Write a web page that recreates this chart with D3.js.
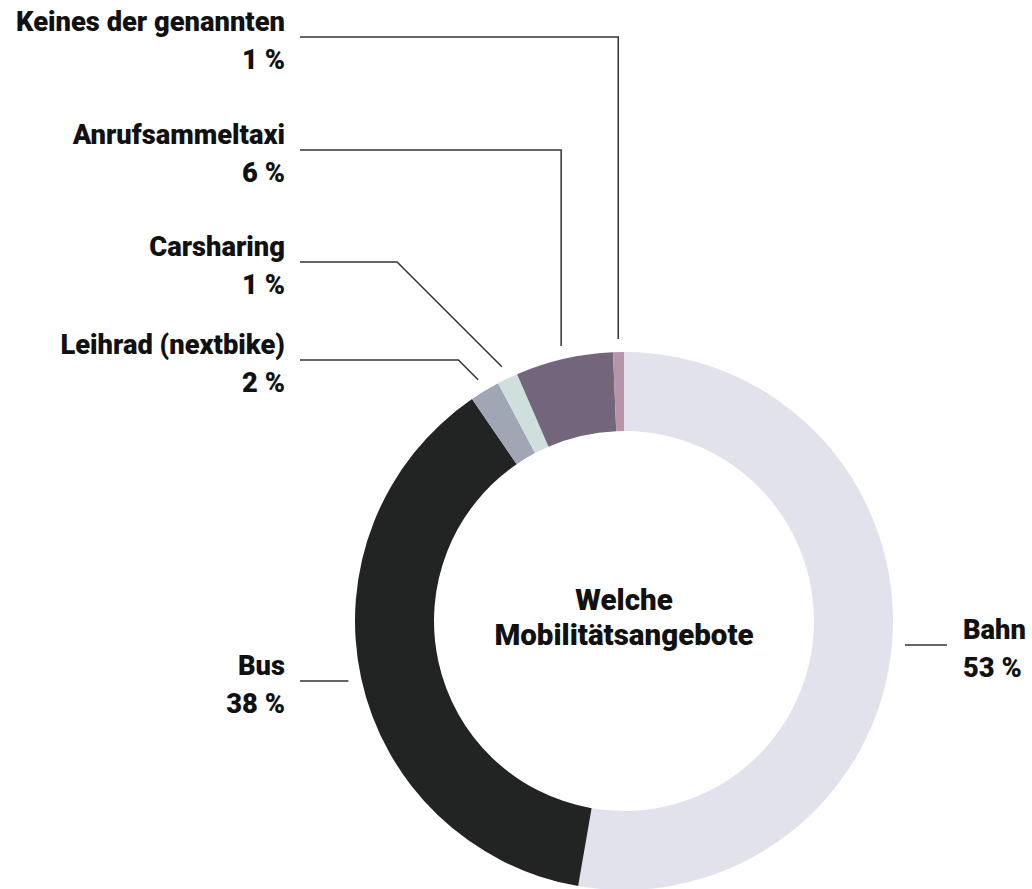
<!DOCTYPE html>
<html>
<head>
<meta charset="utf-8">
<script src="https://cdn.jsdelivr.net/npm/d3@7"></script>
<style>
  body { margin: 0; background: #fff; }
  svg text { font-family: Roboto, "Liberation Sans", sans-serif; font-weight: 900; fill: #111; }
</style>
</head>
<body>
<div id="chart"></div>
<script>
// data (labels show rounded values)
var categories = ["Bahn", "Bus", "Leihrad (nextbike)", "Carsharing", "Anrufsammeltaxi", "Keines der genannten"];
var shares = [52.7, 37.7, 1.8, 1.25, 5.85, 0.65];
var colors = ["#e1e2ec", "#222423", "#a0a6b4", "#cfe0dc", "#73657b", "#b894aa"];
var centerTitle = ["Welche", "Mobilitätsangebote"];

var svg_width = 1032;
var svg_height = 889;
var cx = 624, cy = 621;
var outerR = 269, innerR = 190;

// where each label sits: side, y of its leader line, and how the leader bends
var labelLayout = [
  { side: "right", y: null, bend: "none" },
  { side: "left", y: null, bend: "none" },
  { side: "left", y: 360, bend: "diag" },
  { side: "left", y: 262, bend: "diag" },
  { side: "left", y: 150, bend: "vert" },
  { side: "left", y: 37, bend: "vert" }
];

var svg = d3.select("#chart").append("svg")
  .attr("width", svg_width)
  .attr("height", svg_height);

var g = svg.append("g").attr("transform", `translate(${cx}, ${cy})`);

var pie = d3.pie().sort(null).value(function(d) { return d; });
var arcs = pie(shares);

var arc = d3.arc().innerRadius(innerR).outerRadius(outerR);

g.selectAll("path.slice")
  .data(arcs)
  .enter().append("path")
  .attr("class", "slice")
  .attr("d", arc)
  .attr("fill", function(d, i) { return colors[i]; });

var pct = function(v) { return d3.format(".0f")(v) + " %"; };

var leftX = 300 - cx, rightX = 947 - cx;
var labelR = outerR + 13;

arcs.forEach(function(d, i) {
  var mid = (d.startAngle + d.endAngle) / 2;
  var px = labelR * Math.sin(mid);
  var py = -labelR * Math.cos(mid);
  var lay = labelLayout[i];
  var pts;
  var ly;
  if (lay.bend == "none") {
    ly = py;
    pts = [[px, py], [lay.side == "left" ? leftX : rightX, py]];
  } else {
    ly = lay.y - cy;
    if (lay.bend == "vert") {
      pts = [[px, py], [px, ly], [leftX, ly]];
    } else {
      // 45 degree leg up to the label line
      var dy = py - ly;
      pts = [[px, py], [px - dy, ly], [leftX, ly]];
    }
  }
  g.append("path")
    .attr("d", d3.line()(pts))
    .attr("fill", "none")
    .attr("stroke", "#333")
    .attr("stroke-width", 1.5);

  var tx = lay.side == "left" ? leftX - 15 : rightX + 16;
  var t = g.append("text")
    .attr("text-anchor", lay.side == "left" ? "end" : "start")
    .style("font-size", "27.3px");
  t.append("tspan").attr("x", tx).attr("y", ly - 6).text(categories[i]);
  t.append("tspan").attr("x", tx).attr("y", ly + 32).text(pct(shares[i]));
});

var ct = g.append("text").attr("text-anchor", "middle").style("font-size", "29.5px");
ct.append("tspan").attr("x", 0).attr("y", -11).text(centerTitle[0]);
ct.append("tspan").attr("x", 0).attr("y", 24).text(centerTitle[1]);
</script>
</body>
</html>
